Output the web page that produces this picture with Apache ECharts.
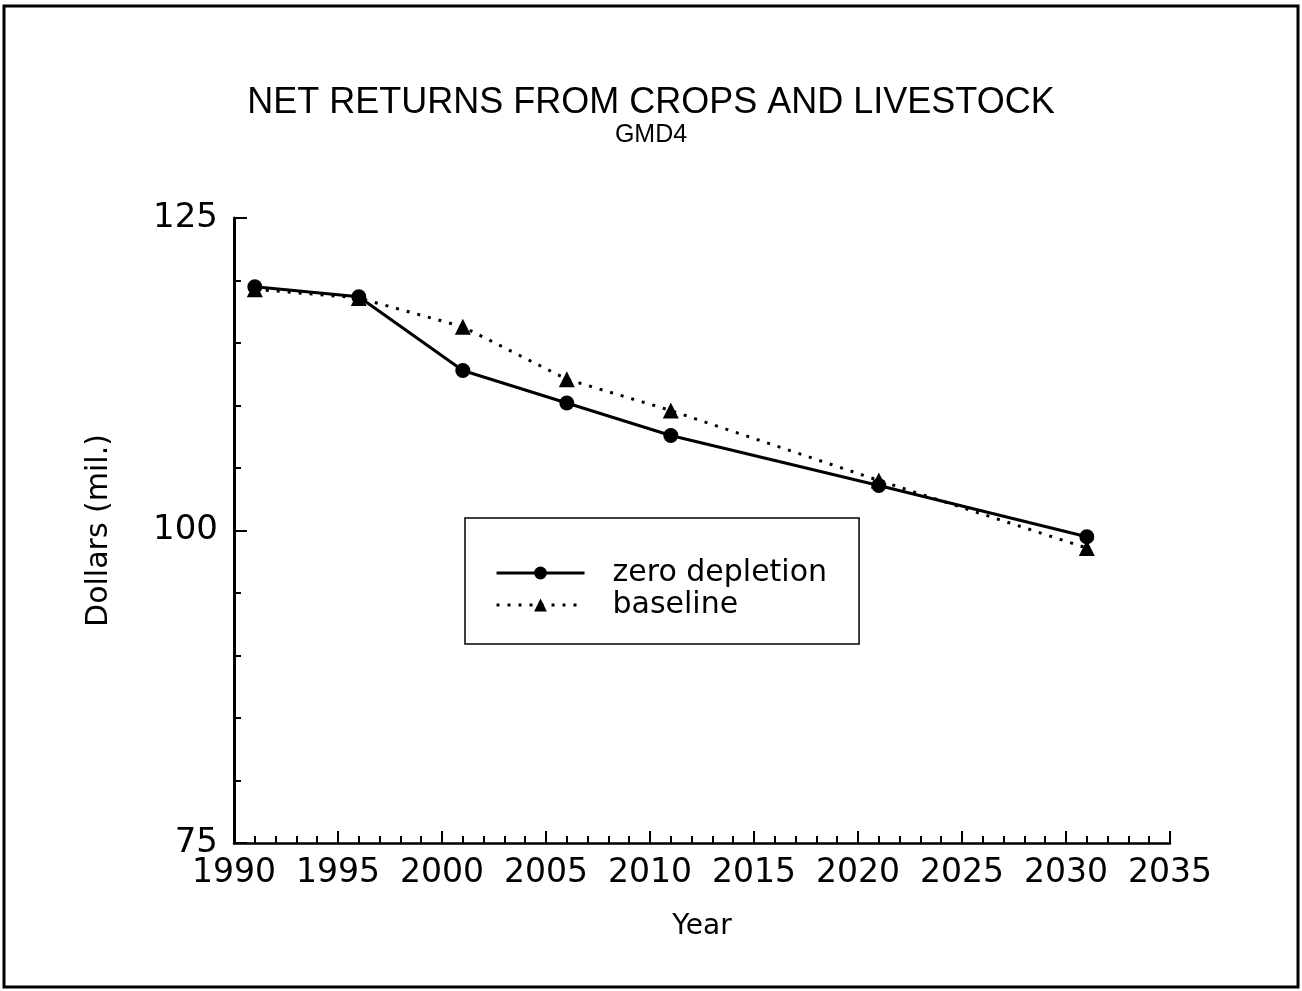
<!DOCTYPE html>
<html>
<head>
<meta charset="utf-8">
<script src="https://cdn.jsdelivr.net/npm/echarts@6/dist/echarts.min.js"></script>
<style>
html,body{margin:0;padding:0;background:#fff;}
#chart{width:1302px;height:991px;}
</style>
</head>
<body>
<div id="chart"></div>
<script>
const years = [1991, 1996, 2001, 2006, 2011, 2021, 2031];
const zeroDepletion = [119.5, 118.7, 112.8, 110.2, 107.6, 103.6, 99.5];
const baseline = [119.3, 118.6, 116.3, 112.1, 109.6, 104.0, 98.6];
const seriesNames = ['zero depletion', 'baseline'];
const titleText = 'NET RETURNS FROM CROPS AND LIVESTOCK';
const subtitleText = 'GMD4';

const chart = echarts.init(document.getElementById('chart'), null, {renderer: 'canvas'});
const labelFont = 'DejaVu Sans';
const pair = (xs, ys) => xs.map((x, i) => [x, ys[i]]);

chart.setOption({
  backgroundColor: '#fff',
  animation: false,
  title: {
    text: titleText,
    subtext: subtitleText,
    left: 'center',
    top: 80,
    itemGap: 2,
    textStyle: {fontFamily: 'Liberation Sans', fontWeight: 'normal', fontSize: 36, color: '#000'},
    subtextStyle: {fontFamily: 'Liberation Sans', fontSize: 25, color: '#000'}
  },
  graphic: [{
    type: 'rect', shape: {x: 4, y: 6, width: 1294, height: 981},
    style: {fill: 'none', stroke: '#000', lineWidth: 3}, silent: true
  }],
  legend: {
    orient: 'vertical',
    left: 465, top: 518,
    data: seriesNames,
    borderColor: '#000', borderWidth: 1.5,
    padding: [40, 32, 24, 30],
    itemWidth: 88, itemHeight: 16, itemGap: 2,
    lineStyle: {width: 3},
    textStyle: {fontFamily: labelFont, fontSize: 30, color: '#000', padding: [0, 0, 0, 23]},
    selectedMode: false
  },
  grid: {left: 234, right: 132, top: 218, bottom: 148, containLabel: false},
  xAxis: {
    type: 'value', min: 1990, max: 2035, interval: 5,
    name: 'Year', nameLocation: 'middle', nameGap: 70,
    nameTextStyle: {fontFamily: labelFont, fontSize: 28, color: '#000'},
    axisLine: {lineStyle: {color: '#000', width: 2.5}},
    axisTick: {inside: true, length: 12, lineStyle: {color: '#000', width: 2}},
    minorTick: {show: true, splitNumber: 5, length: 7, lineStyle: {color: '#000', width: 2}},
    axisLabel: {fontFamily: labelFont, fontSize: 33, color: '#000', margin: 14, formatter: v => String(v)},
    splitLine: {show: false}
  },
  yAxis: {
    type: 'value', min: 75, max: 125, interval: 25,
    name: 'Dollars (mil.)', nameLocation: 'middle', nameGap: 120,
    nameTextStyle: {fontFamily: labelFont, fontSize: 30, color: '#000'},
    axisLine: {lineStyle: {color: '#000', width: 3}},
    axisTick: {inside: true, length: 13, lineStyle: {color: '#000', width: 2}},
    minorTick: {show: true, splitNumber: 5, length: 7, lineStyle: {color: '#000', width: 2}},
    axisLabel: {fontFamily: labelFont, fontSize: 34, color: '#000', margin: 16},
    splitLine: {show: false}
  },
  series: [
    {
      name: seriesNames[0], type: 'line', data: pair(years, zeroDepletion),
      symbol: 'circle', symbolSize: 15,
      itemStyle: {color: '#000'},
      lineStyle: {color: '#000', width: 3, type: 'solid'}
    },
    {
      name: seriesNames[1], type: 'line', data: pair(years, baseline),
      symbol: 'triangle', symbolSize: 16,
      itemStyle: {color: '#000'},
      lineStyle: {color: '#000', width: 3, type: [3, 8]}
    }
  ]
});
</script>
</body>
</html>
